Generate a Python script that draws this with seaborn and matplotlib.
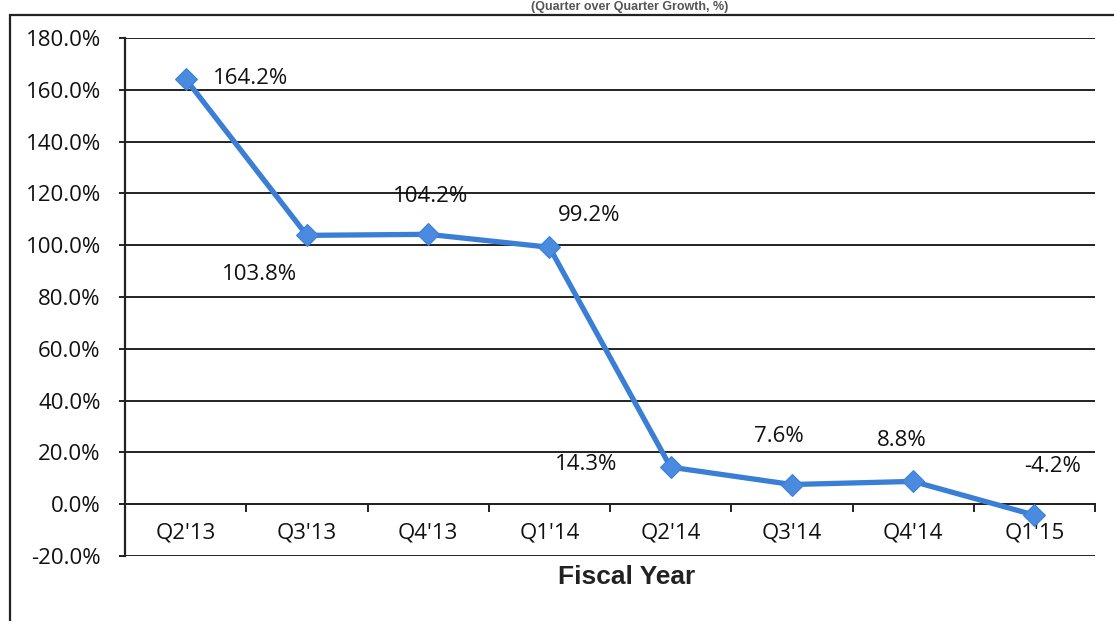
import matplotlib
matplotlib.use("Agg")
import matplotlib.pyplot as plt
from matplotlib.patches import Rectangle
from matplotlib.ticker import FixedLocator, FuncFormatter
import seaborn as sns
import pandas as pd

quarters = ["Q2'13", "Q3'13", "Q4'13", "Q1'14", "Q2'14", "Q3'14", "Q4'14", "Q1'15"]
growth = [164.2, 103.8, 104.2, 99.2, 14.3, 7.6, 8.8, -4.2]
y_ticks = [-20, 0, 20, 40, 60, 80, 100, 120, 140, 160, 180]
x_title = "Fiscal Year"
chart_title = "(Quarter over Quarter Growth, %)"

# label offsets in points (dx, dy) and alignment
label_offsets = [(19.5, 0, "left"), (-34, -28, "center"), (1.5, 27, "center"), (28.5, 23, "center"),
                 (-61, 2, "center"), (-9.5, 34.5, "center"), (-8.5, 29.5, "center"), (13, 35, "center")]

sns.set_theme(style="white")
plt.rcParams["font.family"] = ["Open Sans", "DejaVu Sans"]

df = pd.DataFrame({"x": range(len(quarters)), "quarter": quarters, "growth": growth})

fig = plt.figure(figsize=(11.14, 6.21), dpi=100)
ax = fig.add_axes([125 / 1114, 1 - 556 / 621, (1095 - 125) / 1114, (556 - 38) / 621])

line_color = "#3A7FD5"
sns.lineplot(data=df, x="x", y="growth", ax=ax, color=line_color, linewidth=3.8,
             marker="D", markersize=11, markeredgecolor=line_color, markerfacecolor="#4A8BE0",
             zorder=5)

ax.set_xlim(-0.5, len(quarters) - 0.5)
ax.set_ylim(y_ticks[0], y_ticks[-1])

# y axis
ax.yaxis.set_major_locator(FixedLocator(y_ticks))
ax.yaxis.set_major_formatter(FuncFormatter(lambda v, p: f"{v:.1f}%"))
ax.tick_params(axis="y", which="major", direction="out", length=4.5, width=1.4,
               color="#222222", labelsize=16, labelcolor="#111111", pad=13, left=True)
for v in y_ticks:
    ax.axhline(v, color="#222222", linewidth=1.4, zorder=1)

# x axis at 0 with ticks at category boundaries, labels at categories
ax.spines["bottom"].set_position(("data", 0))
ax.spines["bottom"].set_color("#222222")
ax.spines["bottom"].set_linewidth(1.4)
ax.spines["left"].set_color("#222222")
ax.spines["left"].set_linewidth(1.6)
ax.spines["top"].set_visible(False)
ax.spines["right"].set_visible(False)
ax.xaxis.set_major_locator(FixedLocator([i + 0.5 for i in range(-1, len(quarters))]))
ax.xaxis.set_major_formatter(FuncFormatter(lambda v, p: ""))
ax.xaxis.set_minor_locator(FixedLocator(list(range(len(quarters)))))
ax.xaxis.set_minor_formatter(FuncFormatter(lambda v, p: quarters[int(round(v))]))
ax.tick_params(axis="x", which="major", direction="out", length=6, width=1.4,
               color="#222222", bottom=True)
ax.tick_params(axis="x", which="minor", length=0, labelsize=16, labelcolor="#111111", pad=13)
ax.set_xlabel("")
ax.set_ylabel("")
ax.grid(False)

fig.text(627 / 1114, 1 - 577 / 621, x_title, ha="center", va="center",
         fontsize=19, fontweight="bold", color="#222222", family=["Liberation Sans", "DejaVu Sans"])

# data labels
for i, (q, v) in enumerate(zip(quarters, growth)):
    dx, dy, ha = label_offsets[i]
    ax.annotate(f"{v:.1f}%", (i, v), xytext=(dx, dy), textcoords="offset points",
                ha=ha, va="center", fontsize=16, color="#111111", zorder=6)

# title (cropped at the top in the source scan) and outer frame
fig.text(630 / 1114, 1 - 1 / 621, chart_title, ha="center", va="top", fontsize=9,
         fontweight="bold", color="#555555", family=["Liberation Sans", "DejaVu Sans"])
fig.add_artist(Rectangle((10 / 1114, -0.1), 1.2, 1 - 15 / 621 + 0.1, transform=fig.transFigure,
                         fill=False, edgecolor="#222222", linewidth=1.6))

fig.savefig("out.png", dpi=100, facecolor="white")
